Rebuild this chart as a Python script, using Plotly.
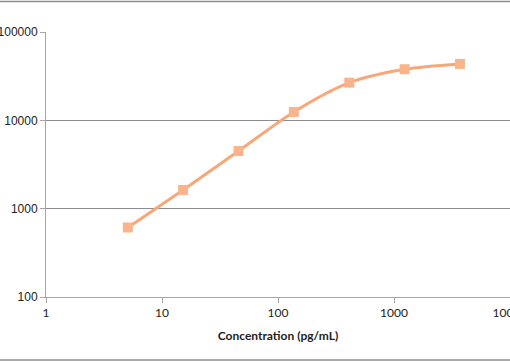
import plotly.graph_objects as go

concentration = [5.08, 15.2, 45.7, 137, 412, 1235, 3704]
signal = [612, 1630, 4500, 12450, 26700, 37900, 43500]
x_tick_vals = [1, 10, 100, 1000, 10000]
x_tick_text = ["1", "10", "100", "1000", "10000"]
y_tick_vals = [100, 1000, 10000, 100000]
y_tick_text = ["100", "1000", "10000", "100000"]

fig = go.Figure()
fig.add_trace(go.Scatter(
    x=concentration, y=signal, mode="lines+markers",
    line=dict(color="#F6A878", width=3, shape="spline", smoothing=0.8),
    marker=dict(symbol="square", size=10, color="#F9B48C"),
    showlegend=False,
))

grid = "#8C8C8C"
fig.update_layout(
    width=510, height=362,
    margin=dict(l=46, r=0, t=32, b=65),
    paper_bgcolor="white", plot_bgcolor="white",
    xaxis=dict(
        type="log", range=[0, 4], tickvals=x_tick_vals, ticktext=x_tick_text,
        automargin=False, ticklabeloverflow="allow",
        showgrid=False, zeroline=False, showline=True, linecolor="#A6A6A6", linewidth=1,
        ticks="outside", ticklen=5, tickcolor="#A6A6A6",
        tickfont=dict(family="Lato", size=12, color="#222"),
        title=dict(text="<b>Concentration (pg/mL)</b>", font=dict(family="Lato", size=12, color="#222"), standoff=12),
    ),
    yaxis=dict(
        type="log", range=[2, 5], tickvals=y_tick_vals, ticktext=y_tick_text,
        automargin=False, ticklabeloverflow="allow",
        showgrid=True, gridcolor=grid, gridwidth=1, zeroline=False,
        showline=True, linecolor="#A6A6A6", linewidth=1,
        ticks="outside", ticklen=5, tickcolor="#A6A6A6",
        tickfont=dict(family="Liberation Sans", size=12, color="#222"),
    ),
    shapes=[
        dict(type="line", xref="paper", yref="paper", x0=-0.2, x1=1.2,
             y0=(297 - 1.5) / 265, y1=(297 - 1.5) / 265, line=dict(color="#8C8C8C", width=1.5)),
        dict(type="line", xref="paper", yref="paper", x0=-0.2, x1=1.2,
             y0=(297 - 360) / 265, y1=(297 - 360) / 265, line=dict(color="#8C8C8C", width=1.5)),
    ],
)
fig.write_html("out.html", config={"displayModeBar": False},
               post_script="document.body.style.margin='0';document.body.style.overflow='hidden';")
